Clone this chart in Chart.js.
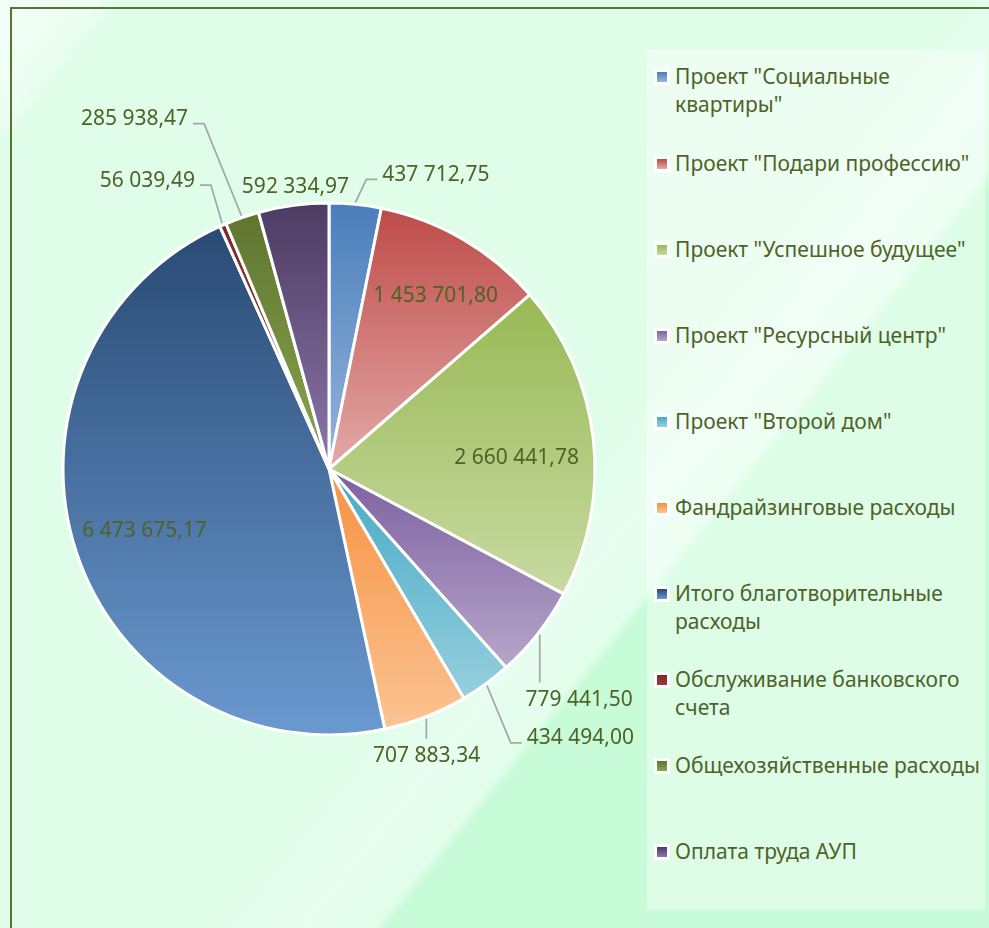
<!DOCTYPE html>
<html>
<head>
<meta charset="utf-8">
<script src="https://cdn.jsdelivr.net/npm/chart.js@4.4.1/dist/chart.umd.min.js"></script>
<style>
    html, body { margin: 0; padding: 0; }
    body {
        width: 989px; height: 928px; overflow: hidden; position: relative;
        font-family: "Noto Sans", sans-serif;
        background: linear-gradient(129deg, #f3fff7 0%, #ebfef1 5.8%, #e0fde9 7%, #e0fde9 55%,
                    #e8fef0 60.5%, #e3fdeb 64.6%, #c8fcd8 65.4%, #c8fcd8 100%);
    }
    #frame { position: absolute; left: 10px; top: 7px; width: 1200px; height: 1200px;
             border-left: 2px solid #5b7233; border-top: 2px solid #5b7233; }
    #chart { position: absolute; left: 0; top: 0; }
    #legend { position: absolute; left: 647px; top: 50px; width: 338px; height: 860px;
              background: rgba(255, 255, 255, 0.38); }
    .item { position: absolute; left: 28px; color: #4f6228; font-size: 21px; line-height: 28px; white-space: nowrap; }
    .swatch { position: absolute; left: -21px; top: 7px; width: 10px; height: 10px; border: 3px solid #fff; }
</style>
</head>
<body>
<div id="frame"></div>
<div id="legend"></div>
<canvas id="chart" width="989" height="928"></canvas>
<script>
'use strict';

/* --------------------------------------------------------------------------
   DATA
   -------------------------------------------------------------------------- */
const categories = [
    ['Проект "Социальные', 'квартиры"'],
    ['Проект "Подари профессию"'],
    ['Проект "Успешное будущее"'],
    ['Проект "Ресурсный центр"'],
    ['Проект "Второй дом"'],
    ['Фандрайзинговые расходы'],
    ['Итого благотворительные', 'расходы'],
    ['Обслуживание банковского', 'счета'],
    ['Общехозяйственные расходы'],
    ['Оплата труда АУП'],
];
const values = [437712.75, 1453701.80, 2660441.78, 779441.50, 434494.00,
                707883.34, 6473675.17, 56039.49, 285938.47, 592334.97];

/* --------------------------------------------------------------------------
   STYLE
   -------------------------------------------------------------------------- */
const topColors    = ['#4a7ebb', '#be4b48', '#98b954', '#7d60a0', '#46aac5',
                      '#f69240', '#294a73', '#772c2a', '#5f7530', '#4d3b62'];
const bottomColors = ['#95b5dd', '#e3aaa8', '#c8daa2', '#b6a6ca', '#96cfde',
                      '#fbc393', '#6a99d0', '#a03c39', '#8aa64f', '#8b77aa'];

// label placement: inside at a fraction of the radius, or offset from the arc's mid point
const labelSpots = [
    { dx: 27, dy: -31, align: 'left', leader: 'elbow' },
    { inside: 0.76, dx: 5 },
    { inside: 0.71, dy: 9 },
    { dx: 41, dy: 65, align: 'center', leader: 'down' },
    { dx: 41, dy: 53, align: 'left', leader: 'elbow' },
    { dx: 1, dy: 38, align: 'center', leader: 'down' },
    { inside: 0.73 },
    { dx: -28, dy: -46, align: 'right', leader: 'elbow' },
    { dx: -54, dy: -100, align: 'right', leader: 'elbow' },
    { dx: 2, dy: -20, align: 'center' },
];

const FONT_SIZE = 21;
const TEXT_COLOR = '#4f6228';
const PIE_RADIUS = 266;

function fmt(v) {
    const [whole, dec] = v.toFixed(2).split('.');
    return whole.replace(/\B(?=(\d{3})+(?!\d))/g, ' ') + ',' + dec;
}

/* --------------------------------------------------------------------------
   PER-SLICE VERTICAL GRADIENT
   -------------------------------------------------------------------------- */
function sliceGradient(c) {
    const chart = c.chart;
    const area = chart.chartArea;
    const i = c.dataIndex;
    if (!area) return topColors[i];
    const cx = (area.left + area.right) / 2;
    const cy = (area.top + area.bottom) / 2;
    const total = values.reduce((a, b) => a + b, 0);
    const before = values.slice(0, i).reduce((a, b) => a + b, 0);
    const a0 = -Math.PI / 2 + 2 * Math.PI * before / total;
    const a1 = a0 + 2 * Math.PI * values[i] / total;
    const ys = [cy, cy + PIE_RADIUS * Math.sin(a0), cy + PIE_RADIUS * Math.sin(a1)];
    const has = a => {
        for (let k = -1; k <= 2; k++) {
            const t = a + 2 * Math.PI * k;
            if (t >= a0 && t <= a1) return true;
        }
        return false;
    };
    if (has(Math.PI / 2)) ys.push(cy + PIE_RADIUS);
    if (has(-Math.PI / 2)) ys.push(cy - PIE_RADIUS);
    const y0 = Math.min(...ys), y1 = Math.max(...ys);
    const g = chart.ctx.createLinearGradient(0, y0, 0, Math.max(y1, y0 + 1));
    g.addColorStop(0, topColors[i]);
    g.addColorStop(1, bottomColors[i]);
    return g;
}

/* --------------------------------------------------------------------------
   DATA LABELS WITH LEADER LINES
   -------------------------------------------------------------------------- */
const sliceLabels = {
    id: 'sliceLabels',
    afterDatasetsDraw(chart) {
        const ctx = chart.ctx;
        const meta = chart.getDatasetMeta(0);
        ctx.save();
        ctx.font = FONT_SIZE + 'px "Noto Sans"';
        ctx.fillStyle = TEXT_COLOR;
        ctx.textBaseline = 'alphabetic';
        const base = FONT_SIZE * 0.36;
        meta.data.forEach((arc, i) => {
            const spot = labelSpots[i];
            const mid = (arc.startAngle + arc.endAngle) / 2;
            const text = fmt(values[i]);
            if (spot.inside) {
                const r = arc.outerRadius * spot.inside;
                const x = arc.x + Math.cos(mid) * r + (spot.dx || 0);
                const y = arc.y + Math.sin(mid) * r + (spot.dy || 0);
                ctx.textAlign = 'center';
                ctx.fillText(text, x, y + base);
                return;
            }
            const ex = arc.x + Math.cos(mid) * arc.outerRadius;
            const ey = arc.y + Math.sin(mid) * arc.outerRadius;
            const tx = ex + spot.dx, ty = ey + spot.dy;
            ctx.textAlign = spot.align;
            ctx.fillText(text, tx, ty + base);

            if (!spot.leader) return;
            const sx = arc.x + Math.cos(mid) * (arc.outerRadius + 2);
            const sy = arc.y + Math.sin(mid) * (arc.outerRadius + 2);
            ctx.beginPath();
            ctx.strokeStyle = '#a6a6a6';
            ctx.lineWidth = 1.75;
            ctx.moveTo(sx, sy);
            if (spot.leader === 'elbow') {
                const dir = spot.align === 'left' ? -1 : 1;
                const endX = tx + dir * 5;
                const ly = ty + 6;
                ctx.lineTo(endX + dir * 11, ly);
                ctx.lineTo(endX, ly);
            } else {
                ctx.lineTo(sx, ty - 16);
            }
            ctx.stroke();
        });
        ctx.restore();
    },
};

/* --------------------------------------------------------------------------
   CHART
   -------------------------------------------------------------------------- */
new Chart(document.getElementById('chart').getContext('2d'), {
    type: 'pie',
    data: {
        labels: categories,
        datasets: [{
            data: values,
            backgroundColor: sliceGradient,
            borderColor: '#ffffff',
            borderWidth: 3,
        }],
    },
    options: {
        responsive: false,
        animation: false,
        events: [],
        radius: PIE_RADIUS,
        layout: { padding: { left: 63, right: 394, top: 203, bottom: 193 } },
        plugins: {
            legend: { display: false },
            tooltip: { enabled: false },
        },
    },
    plugins: [sliceLabels],
});

/* --------------------------------------------------------------------------
   LEGEND (right panel)
   -------------------------------------------------------------------------- */
const legend = document.getElementById('legend');
categories.forEach((lines, i) => {
    const item = document.createElement('div');
    item.className = 'item';
    item.style.top = (12.4 + 86.1 * i) + 'px';
    const sw = document.createElement('span');
    sw.className = 'swatch';
    sw.style.background = `linear-gradient(${topColors[i]}, ${bottomColors[i]})`;
    item.appendChild(sw);
    lines.forEach((line, k) => {
        if (k) item.appendChild(document.createElement('br'));
        item.appendChild(document.createTextNode(line));
    });
    legend.appendChild(item);
});
</script>
</body>
</html>
